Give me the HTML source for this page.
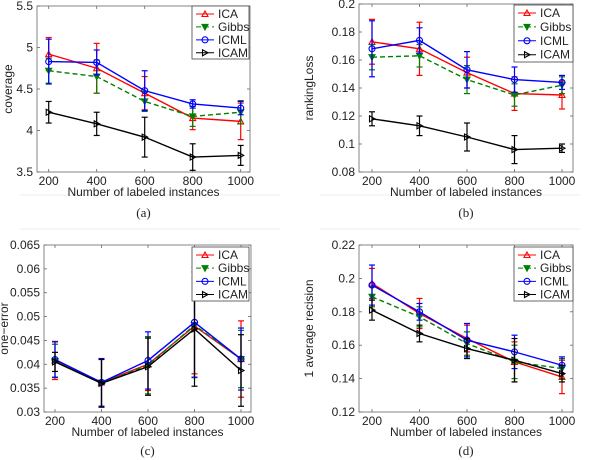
<!DOCTYPE html>
<html><head><meta charset="utf-8"><style>
body{margin:0;background:#fff;}
svg{display:block;font-family:"Liberation Sans",sans-serif;}
</style></head><body>
<svg id="fig" width="600" height="460" viewBox="0 0 600 460" xmlns="http://www.w3.org/2000/svg">
<line x1="20" y1="195" x2="280" y2="195" stroke="#eee"/>
<line x1="320" y1="195" x2="580" y2="195" stroke="#eee"/>
<line x1="20" y1="229" x2="280" y2="229" stroke="#eee"/>
<line x1="320" y1="229" x2="580" y2="229" stroke="#eee"/>
</svg>
<script>
const categories=[200,400,600,800,1000];
const seriesNames=["ICA","Gibbs","ICML","ICAM"];
// panel a: coverage
const aICA=[4.92,4.75,4.45,4.15,4.11], aICAe=[0.2,0.3,0.2,0.14,0.22];
const aGibbs=[4.72,4.65,4.35,4.17,4.22], aGibbse=[0.15,0.2,0.12,0.12,0.14];
const aICML=[4.83,4.82,4.48,4.32,4.27], aICMLe=[0.27,0.15,0.24,0.05,0.08];
const aICAM=[4.22,4.08,3.92,3.68,3.70], aICAMe=[0.13,0.14,0.24,0.16,0.12];
const aTicks=[3.5,4,4.5,5,5.5];
// panel b: rankingLoss
const bICA=[0.173,0.168,0.151,0.136,0.135], bICAe=[0.016,0.019,0.011,0.012,0.010];
const bGibbs=[0.162,0.163,0.146,0.135,0.142], bGibbse=[0.009,0.008,0.010,0.008,0.006];
const bICML=[0.168,0.174,0.153,0.146,0.144], bICMLe=[0.020,0.009,0.013,0.009,0.005];
const bICAM=[0.118,0.113,0.105,0.096,0.097], bICAMe=[0.005,0.007,0.010,0.010,0.003];
const bTicks=[0.08,0.1,0.12,0.14,0.16,0.18,0.2];
// panel c: one-error
const cICA=[0.0408,0.0362,0.0400,0.0480,0.0411], cICAe=[0.004,0.005,0.0055,0.010,0.008];
const cGibbs=[0.0407,0.0361,0.0398,0.0482,0.0411], cGibbse=[0.0035,0.005,0.006,0.011,0.006];
const cICML=[0.0410,0.0362,0.0408,0.0488,0.0411], cICMLe=[0.0037,0.005,0.006,0.0115,0.0065];
const cICAM=[0.0405,0.0360,0.0395,0.0474,0.0387], cICAMe=[0.002,0.005,0.006,0.012,0.0075];
const cTicks=[0.03,0.035,0.04,0.045,0.05,0.055,0.06,0.065];
// panel d: 1-average precision
const dICA=[0.197,0.179,0.164,0.150,0.141], dICAe=[0.009,0.009,0.008,0.012,0.010];
const dGibbs=[0.189,0.177,0.161,0.150,0.146], dGibbse=[0.006,0.006,0.007,0.010,0.006];
const dICML=[0.196,0.180,0.163,0.156,0.148], dICMLe=[0.012,0.005,0.010,0.010,0.005];
const dICAM=[0.181,0.167,0.158,0.151,0.143], dICAMe=[0.006,0.005,0.006,0.013,0.005];
const dTicks=[0.12,0.14,0.16,0.18,0.2,0.22];

const NS="http://www.w3.org/2000/svg";
const svg=document.getElementById('fig');
function mk(tag,attrs,parent,text){const e=document.createElementNS(NS,tag);for(const k in attrs)e.setAttribute(k,attrs[k]);if(text!==undefined)e.textContent=text;(parent||svg).appendChild(e);return e;}
const colors=["#ff0000","#008000","#0000ff","#000000"];
const dashes=["","5,3","",""];

function panel(P){
  const g=mk('g',{});
  
  
  const ymin=P.ticks[0], ymax=P.ticks[P.ticks.length-1];
  const xs=v=>P.x200+(v-200)/800*(P.x1000-P.x200);
  const ys=v=>P.bottom-(v-ymin)/(ymax-ymin)*(P.bottom-P.top);
  const frame=mk('rect',{x:P.left,y:P.top,width:P.right-P.left,height:P.bottom-P.top,fill:'#fff',stroke:'#666','stroke-width':0.8},g);
  
  
  P.ticks.forEach(t=>{
    const y=ys(t);
    mk('line',{x1:P.left,y1:y,x2:P.left+3,y2:y,stroke:'#666','stroke-width':0.8},g);
    mk('line',{x1:P.right,y1:y,x2:P.right-3,y2:y,stroke:'#666','stroke-width':0.8},g);
    const tl=mk('text',{x:P.left-4,y:y+4,'text-anchor':'end','font-size':12,fill:'#222'},g,String(t));
    
    
  });
  categories.forEach(c=>{
    const x=xs(c);
    mk('line',{x1:x,y1:P.bottom,x2:x,y2:P.bottom-3,stroke:'#666','stroke-width':0.8},g);
    mk('line',{x1:x,y1:P.top,x2:x,y2:P.top+3,stroke:'#666','stroke-width':0.8},g);
    const tl=mk('text',{x:x,y:P.bottom+13,'text-anchor':'middle','font-size':12,fill:'#222'},g,String(c));
    
    
  });
  const xt=mk('text',{x:(P.left+P.right)/2,y:P.bottom+24,'text-anchor':'middle','font-size':12,fill:'#222'},g,'Number of labeled instances');
  
  
  const yt=mk('text',{x:0,y:0,'text-anchor':'middle','font-size':12,fill:'#222',transform:`translate(${P.ylx},${(P.top+P.bottom)/2}) rotate(-90)`},g,P.ylabel);
  
  
  const cap=mk('text',{x:(P.left+P.right)/2,y:P.capy,'text-anchor':'middle','font-size':13,fill:'#222','font-family':'Liberation Serif, serif'},g,'('+P.id+')');
  
  
  P.series.forEach((s,i)=>{
    const sg=mk('g',{},g);
    
    
    const vals=s[0], errs=s[1];
    vals.forEach((v,j)=>{
      const x=xs(categories[j]);
      mk('line',{x1:x,y1:ys(v-errs[j]),x2:x,y2:ys(v+errs[j]),stroke:colors[i],'stroke-width':1.2},sg);
      mk('line',{x1:x-3,y1:ys(v-errs[j]),x2:x+3,y2:ys(v-errs[j]),stroke:colors[i],'stroke-width':1.2},sg);
      mk('line',{x1:x-3,y1:ys(v+errs[j]),x2:x+3,y2:ys(v+errs[j]),stroke:colors[i],'stroke-width':1.2},sg);
    });
    const pl=mk('polyline',{points:vals.map((v,j)=>xs(categories[j])+','+ys(v)).join(' '),fill:'none',stroke:colors[i],'stroke-width':1.4,'stroke-dasharray':dashes[i]},sg);
    
    
    vals.forEach((v,j)=>{marker(sg,i,xs(categories[j]),ys(v));});
  });
  const L=P.legend;
  const lg=mk('g',{},g);
  
  
  mk('rect',{x:L[0],y:L[1],width:L[2],height:L[3],fill:'#fff',stroke:'#444','stroke-width':0.8},lg);
  seriesNames.forEach((n,i)=>{
    const y=L[1]+8+i*L[3]/4.1;
    const eg=mk('g',{},lg);
    
    
    mk('line',{x1:L[0]+4,y1:y,x2:L[0]+22,y2:y,stroke:colors[i],'stroke-width':1,'stroke-dasharray':dashes[i]},eg);
    marker(eg,i,L[0]+13,y);
    mk('text',{x:L[0]+26,y:y+4,'font-size':12,fill:'#222'},eg,n);
  });
}
function marker(p,i,x,y){
  const c=colors[i];
  if(i===0)mk('polygon',{points:`${x},${y-3} ${x-3},${y+2.5} ${x+3},${y+2.5}`,fill:'none',stroke:c,'stroke-width':1.1},p);
  else if(i===1)mk('polygon',{points:`${x},${y+3} ${x-3},${y-2.5} ${x+3},${y-2.5}`,fill:c,stroke:c,'stroke-width':1.1},p);
  else if(i===2)mk('circle',{cx:x,cy:y,r:3,fill:'none',stroke:c,'stroke-width':1.1},p);
  else mk('polygon',{points:`${x+3},${y} ${x-2.5},${y-3} ${x-2.5},${y+3}`,fill:'none',stroke:c,'stroke-width':1.1},p);
}
panel({id:'a',left:37,right:250,top:6,bottom:172,x200:48.7,x1000:240.7,ticks:aTicks,ylabel:'coverage',ylx:12,capy:217,
  legend:[192,6,57,53],series:[[aICA,aICAe],[aGibbs,aGibbse],[aICML,aICMLe],[aICAM,aICAMe]]});
panel({id:'b',left:359,right:573,top:4,bottom:172,x200:372,x1000:562,ticks:bTicks,ylabel:'rankingLoss',ylx:313,capy:217,
  legend:[514,5,59,57],series:[[bICA,bICAe],[bGibbs,bGibbse],[bICML,bICMLe],[bICAM,bICAMe]]});
panel({id:'c',left:44,right:251,top:245,bottom:412,x200:55,x1000:241,ticks:cTicks,ylabel:'one\u2212error',ylx:8,capy:455,
  legend:[192,247,57,54],series:[[cICA,cICAe],[cGibbs,cGibbse],[cICML,cICMLe],[cICAM,cICAMe]]});
panel({id:'d',left:359,right:573,top:245,bottom:412,x200:372,x1000:562,ticks:dTicks,ylabel:'1 average  recision',ylx:313,capy:455,
  legend:[514,247,59,54],series:[[dICA,dICAe],[dGibbs,dGibbse],[dICML,dICMLe],[dICAM,dICAMe]]});
</script>
</body></html>
